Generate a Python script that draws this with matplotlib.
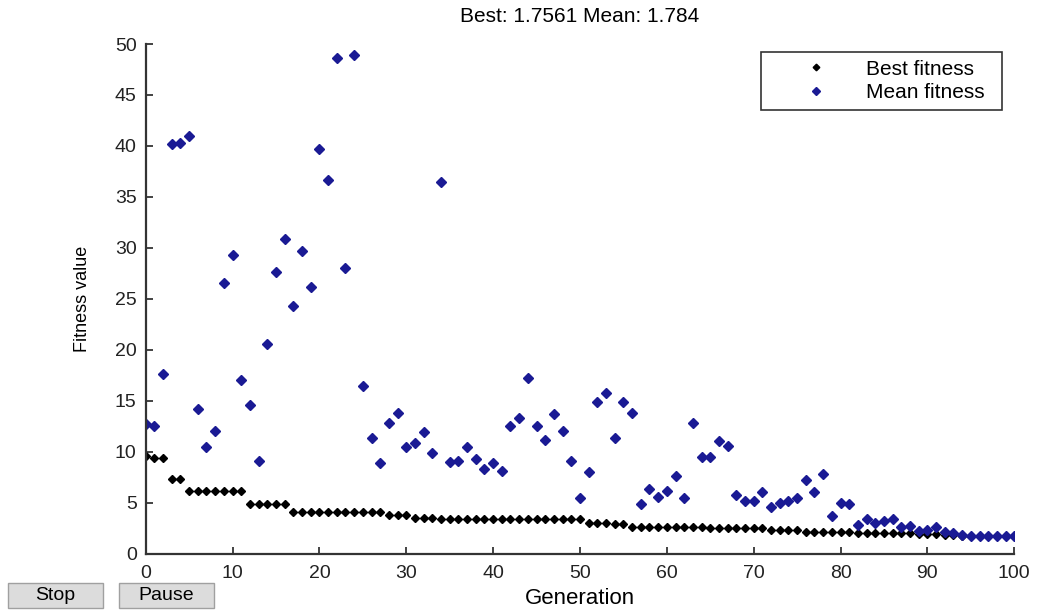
import numpy as np
import matplotlib
matplotlib.use("Agg")
import matplotlib.pyplot as plt
from matplotlib.patches import Rectangle

plt.rcParams["font.family"] = ["Liberation Sans", "DejaVu Sans"]

generations = np.arange(0, 101)

best_fitness = (
    [9.6, 9.4, 9.4, 7.3, 7.3]
    + [6.2] * 7
    + [4.85] * 5
    + [4.14] * 11
    + [3.8] * 3
    + [3.55] * 3
    + [3.39] * 17
    + [3.06] * 3
    + [2.95] * 2
    + [2.67] * 9
    + [2.51] * 7
    + [2.36] * 4
    + [2.18] * 6
    + [2.02] * 7
    + [2.0] * 3
    + [1.85] * 2
    + [1.7561] * 7
)

mean_fitness = [
    12.7, 12.54, 17.67, 40.2, 40.3, 41.0, 14.17, 10.45, 12.08, 26.6,
    29.3, 17.05, 14.57, 9.1, 20.6, 27.67, 30.9, 24.3, 29.7, 26.2,
    39.7, 36.66, 48.6, 28.0, 48.9, 16.5, 11.33, 8.88, 12.86, 13.85,
    10.51, 10.9, 11.98, 9.92, 36.5, 8.98, 9.14, 10.45, 9.27, 8.29,
    8.88, 8.13, 12.54, 13.29, 17.28, 12.54, 11.17, 13.72, 12.08, 9.14,
    5.45, 8.0, 14.86, 15.74, 11.33, 14.86, 13.85, 4.86, 6.33, 5.61,
    6.2, 7.67, 5.45, 12.8, 9.53, 9.53, 11.07, 10.61, 5.77, 5.19,
    5.19, 6.04, 4.6, 5.04, 5.2, 5.45, 7.24, 6.07, 7.82, 3.72,
    5.04, 4.88, 2.88, 3.4, 3.08, 3.26, 3.42, 2.67, 2.77, 2.28,
    2.34, 2.67, 2.18, 2.02, 1.85, 1.8, 1.79, 1.79, 1.78, 1.78,
    1.784,
]

x_ticks = list(range(0, 101, 10))
y_ticks = list(range(0, 51, 5))
title_text = "Best: 1.7561 Mean: 1.784"

W, H = 1039, 612
fig = plt.figure(figsize=(W / 100, H / 100), dpi=100)
ax = fig.add_axes([0.1402, 0.0949, 0.836, 0.8332])

ax.plot(generations, best_fitness, linestyle="none", marker="D",
        markersize=4.2, color="black", label="Best fitness")
ax.plot(generations, mean_fitness, linestyle="none", marker="D",
        markersize=4.6, color="#1a1a94", label="Mean fitness")

ax.set_xlim(0, 100)
ax.set_ylim(0, 50)
ax.set_xticks(x_ticks)
ax.set_yticks(y_ticks)
ax.tick_params(direction="in", length=5, width=1.2, labelsize=14, colors="#222222")
ax.tick_params(axis="x", pad=8)
ax.tick_params(axis="y", pad=6.5)
for side in ["top", "right"]:
    ax.spines[side].set_visible(False)
for side in ["left", "bottom"]:
    ax.spines[side].set_linewidth(1.6)
    ax.spines[side].set_color("#333333")

ax.set_title(title_text, fontsize=15, pad=16)
ax.set_xlabel("Generation", fontsize=16, labelpad=4)
ax.set_ylabel("Fitness value", fontsize=13, labelpad=17)

leg = ax.legend(loc="upper left", mode="expand",
                bbox_to_anchor=(761 / W, 1 - 108.3 / H, 241 / W, 56.6 / H),
                bbox_transform=fig.transFigure, fontsize=15, frameon=True,
                fancybox=False, edgecolor="black", handlelength=4.5,
                handletextpad=0.15, borderpad=0.38, labelspacing=0.22,
                borderaxespad=0, markerscale=0.8)
leg.get_frame().set_linewidth(1.2)

# the Stop / Pause buttons of the GA window
for label, x0 in [("Stop", 8), ("Pause", 119)]:
    fig.patches.append(Rectangle((x0 / W, 1 - 608 / H), 95 / W, 25.5 / H,
                                 transform=fig.transFigure, facecolor="#dcdcdc",
                                 edgecolor="#a0a0a0", linewidth=1))
    fig.text((x0 + 47.5) / W, 1 - 596 / H, label, ha="center", va="center",
             fontsize=14)

fig.savefig("out.png", dpi=100)
